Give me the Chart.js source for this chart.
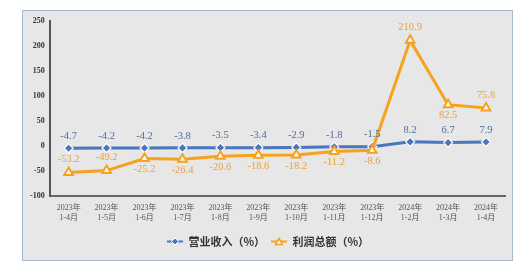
<!DOCTYPE html>
<html>
<head>
<meta charset="utf-8">
<script src="https://cdn.jsdelivr.net/npm/chart.js"></script>
<style>
  html, body { margin: 0; padding: 0; background: #fff; }
  .panel { position: absolute; left: 22px; top: 10px; width: 489px; height: 249px; background: #e7e7e7; border: 1px solid #a7b7cc; }
  .panel canvas { display: block; }
</style>
</head>
<body>
<div class="panel"><canvas id="c" width="489" height="249"></canvas></div>
<script>
// categories (two-line tick labels)
const periods = [
  ['2023年', '1-4月'], ['2023年', '1-5月'], ['2023年', '1-6月'], ['2023年', '1-7月'],
  ['2023年', '1-8月'], ['2023年', '1-9月'], ['2023年', '1-10月'], ['2023年', '1-11月'],
  ['2023年', '1-12月'], ['2024年', '1-2月'], ['2024年', '1-3月'], ['2024年', '1-4月']
];
// 营业收入 growth (%)
const revenue = [-4.7, -4.2, -4.2, -3.8, -3.5, -3.4, -2.9, -1.8, -1.5, 8.2, 6.7, 7.9];
// 利润总额 growth (%)
const profit = [-53.2, -49.2, -25.2, -26.4, -20.6, -18.6, -18.2, -11.2, -8.6, 210.9, 82.5, 75.8];
// where each profit label sits relative to its point
const profitLabelSide = ['up', 'up', 'down', 'down', 'down', 'down', 'down', 'down', 'down', 'up', 'down', 'up'];

const BLUE = '#4a76bd';
const ORANGE = '#f6a21e';
const SERIF = "'Liberation Serif', 'DejaVu Serif', 'Noto Sans CJK SC', serif";

// small legend markers: a line with the series' point symbol
function legendMarker(kind) {
  const cv = document.createElement('canvas');
  cv.width = 16; cv.height = 9;
  const g = cv.getContext('2d');
  g.lineWidth = 2;
  g.strokeStyle = kind === 'blue' ? BLUE : ORANGE;
  g.beginPath(); g.moveTo(0, 4.5); g.lineTo(16, 4.5); g.stroke();
  if (kind === 'blue') {
    g.fillStyle = BLUE; g.strokeStyle = '#fff'; g.lineWidth = 1;
    g.beginPath(); g.moveTo(8, 1); g.lineTo(11.5, 4.5); g.lineTo(8, 8); g.lineTo(4.5, 4.5); g.closePath();
    g.fill(); g.stroke();
  } else {
    g.fillStyle = '#fff'; g.strokeStyle = ORANGE; g.lineWidth = 1.5;
    g.beginPath(); g.moveTo(8, 1.5); g.lineTo(11.5, 7.5); g.lineTo(4.5, 7.5); g.closePath();
    g.fill(); g.stroke();
  }
  return cv;
}
const markers = [legendMarker('blue'), legendMarker('orange')];

// value labels next to each point
const valueLabels = {
  id: 'valueLabels',
  afterDatasetsDraw(chart) {
    const ctx = chart.ctx;
    ctx.save();
    ctx.font = '10.5px ' + SERIF;
    ctx.textAlign = 'center';
    ctx.textBaseline = 'middle';
    chart.data.datasets.forEach((ds, di) => {
      const meta = chart.getDatasetMeta(di);
      meta.data.forEach((pt, i) => {
        const v = ds.data[i];
        let dy = -12;
        if (di === 1) dy = profitLabelSide[i] === 'up' ? -13 : 11;
        ctx.fillStyle = di === 0 ? '#4d6f9f' : '#eba03a';
        ctx.fillText(v.toFixed(1), pt.x, pt.y + dy);
      });
    });
    ctx.restore();
  }
};

new Chart(document.getElementById('c'), {
  type: 'line',
  data: {
    labels: periods,
    datasets: [
      {
        label: '营业收入（%）',
        data: revenue,
        borderColor: BLUE,
        backgroundColor: BLUE,
        borderWidth: 3,
        pointStyle: 'rectRot',
        pointRadius: 4.5,
        pointBorderColor: '#fff',
        pointBorderWidth: 1.2,
        tension: 0,
        order: 1
      },
      {
        label: '利润总额（%）',
        data: profit,
        borderColor: ORANGE,
        backgroundColor: '#fff',
        borderWidth: 3,
        pointStyle: 'triangle',
        pointRadius: 5,
        pointBorderColor: ORANGE,
        pointBorderWidth: 2,
        tension: 0,
        order: 0
      }
    ]
  },
  options: {
    responsive: false,
    animation: false,
    layout: { padding: { left: 2, right: 1, top: 3, bottom: 3 } },
    scales: {
      x: {
        offset: true,
        grid: { display: false, drawTicks: false },
        border: { color: '#666', width: 2 },
        ticks: {
          autoSkip: false, maxRotation: 0, padding: 7,
          color: '#555',
          font: { family: SERIF, size: 8, lineHeight: 1.25 }
        }
      },
      y: {
        min: -100, max: 250,
        grid: { display: false, drawTicks: false },
        border: { color: '#555', width: 2 },
        ticks: {
          stepSize: 50, padding: 5,
          color: '#333',
          font: { family: SERIF, size: 8, weight: 'bold' }
        }
      }
    },
    plugins: {
      legend: {
        position: 'bottom',
        labels: {
          usePointStyle: true,
          pointStyleWidth: 16,
          padding: 6,
          color: '#333',
          font: { family: "'Noto Sans CJK SC', sans-serif", size: 11, weight: 'bold' },
          generateLabels(chart) {
            return chart.data.datasets.map((ds, i) => ({
              text: ds.label,
              pointStyle: markers[i],
              datasetIndex: i,
              fontColor: '#333',
              lineWidth: 0,
              strokeStyle: 'transparent',
              fillStyle: 'transparent'
            }));
          }
        }
      },
      tooltip: { enabled: false }
    }
  },
  plugins: [valueLabels]
});
</script>
</body>
</html>
